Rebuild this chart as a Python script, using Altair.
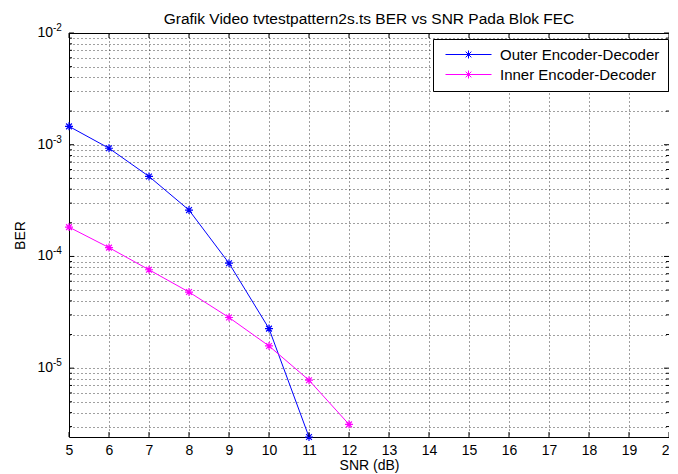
import altair as alt
import pandas as pd

# ---- data ----
snr_outer = [5, 6, 7, 8, 9, 10, 11]
ber_outer = [1.46e-3, 9.3e-4, 5.2e-4, 2.6e-4, 8.7e-5, 2.26e-5, 2.42e-6]
snr_inner = [5, 6, 7, 8, 9, 10, 11, 12]
ber_inner = [1.83e-4, 1.2e-4, 7.6e-5, 4.8e-5, 2.84e-5, 1.58e-5, 7.8e-6, 3.14e-6]
series_names = ["Outer Encoder-Decoder", "Inner Encoder-Decoder"]
series_colors = ["#0000ff", "#ff00ff"]

x_ticks = [5, 6, 7, 8, 9, 10, 11, 12, 13, 14, 15, 16, 17, 18, 19, 20]
y_decades = [1e-5, 1e-4, 1e-3, 1e-2]
y_exponents = ["-5", "-4", "-3", "-2"]
y_minor = [3e-6, 4e-6, 5e-6, 6e-6, 7e-6, 8e-6, 9e-6,
           2e-5, 3e-5, 4e-5, 5e-5, 6e-5, 7e-5, 8e-5, 9e-5,
           2e-4, 3e-4, 4e-4, 5e-4, 6e-4, 7e-4, 8e-4, 9e-4,
           2e-3, 3e-3, 4e-3, 5e-3, 6e-3, 7e-3, 8e-3, 9e-3]
Y_MIN, Y_MAX = 2.42e-6, 1e-2

W, H = 600, 404
FONT = "Liberation Sans"

df = pd.DataFrame(
    {"snr": snr_outer + snr_inner,
     "ber": ber_outer + ber_inner,
     "series": [series_names[0]] * len(snr_outer) + [series_names[1]] * len(snr_inner)}
)
xt = pd.DataFrame({"snr": x_ticks})
yd = pd.DataFrame({"ber": y_decades, "e": y_exponents})
ym = pd.DataFrame({"ber": y_minor})

x_scale = alt.Scale(domain=[5, 20], nice=False)
y_scale = alt.Scale(type="log", domain=[Y_MIN, Y_MAX], nice=False)

GRID_OP = 0.75
x_axis = alt.Axis(values=x_ticks, title="SNR (dB)", grid=True, gridDash=[1, 3],
                  gridColor="#000000", gridOpacity=GRID_OP, ticks=False, domain=False,
                  labelPadding=6, labelFontSize=14, titleFontSize=14, titlePadding=1,
                  labelOverlap=False, labelFlush=False,
                  labelColor="#000", titleColor="#000", titleFontWeight="normal")
y_axis = alt.Axis(values=y_decades + y_minor, title="BER", grid=True, gridDash=[1, 3],
                  gridColor="#000000", gridOpacity=GRID_OP, ticks=False, domain=False,
                  labels=False, titleFontSize=14, titlePadding=42,
                  titleColor="#000", titleFontWeight="normal")


def X():
    return alt.X("snr:Q", scale=x_scale, axis=x_axis)


def Y():
    return alt.Y("ber:Q", scale=y_scale, axis=y_axis)


# marker: MATLAB-style asterisk
STAR = "M-1,0L1,0M0,-1L0,1M-0.72,-0.72L0.72,0.72M-0.72,0.72L0.72,-0.72"
# legend glyph: line with an asterisk in the middle (units of 5 px for size=100)
LEG = ("M-0.6,0L8.6,0"
       "M3.2,0L4.8,0M4,-0.8L4,0.8M3.43,-0.57L4.57,0.57M3.43,0.57L4.57,-0.57")

color = alt.Color(
    "series:N",
    scale=alt.Scale(domain=series_names, range=series_colors),
    legend=alt.Legend(title=None, orient="none", legendX=364, legendY=6,
                      symbolType=LEG, symbolSize=100, symbolStrokeWidth=1,
                      symbolFillColor="transparent",
                      labelFontSize=15, labelColor="#000", labelOffset=44,
                      rowPadding=4, padding=8, strokeColor="#000",
                      fillColor="#ffffff"),
)

base = alt.Chart(df)
lines = base.mark_line(strokeWidth=1).encode(x=X(), y=Y(), color=color, detail="series:N")
points = base.mark_point(shape=STAR, size=64, strokeWidth=1.2, filled=False,
                         opacity=1).encode(x=X(), y=Y(), color=color)

# inward tick marks (MATLAB style)
xb = alt.Chart(xt).mark_rule(color="#000").encode(x=X(), y=alt.value(H), y2=alt.value(H - 5))
xtop = alt.Chart(xt).mark_rule(color="#000").encode(x=X(), y=alt.value(0), y2=alt.value(5))
yl_major = alt.Chart(yd).mark_rule(color="#000").encode(y=Y(), x=alt.value(0), x2=alt.value(5))
yr_major = alt.Chart(yd).mark_rule(color="#000").encode(y=Y(), x=alt.value(W), x2=alt.value(W - 5))
yl_minor = alt.Chart(ym).mark_rule(color="#000").encode(y=Y(), x=alt.value(0), x2=alt.value(3))
yr_minor = alt.Chart(ym).mark_rule(color="#000").encode(y=Y(), x=alt.value(W), x2=alt.value(W - 3))

# y tick labels 10^e
lab10 = alt.Chart(yd).mark_text(align="right", baseline="middle", fontSize=14,
                                 color="#000").encode(
    y=Y(), x=alt.value(-16), text=alt.value("10"))
labexp = alt.Chart(yd).mark_text(align="left", baseline="middle", fontSize=10,
                                  color="#000", dy=-5).encode(
    y=Y(), x=alt.value(-16), text="e:N")

chart = alt.layer(
    lines, points, xb, xtop, yl_major, yr_major, yl_minor, yr_minor, lab10, labexp
).properties(
    width=W, height=H,
    title=alt.Title("Grafik Video tvtestpattern2s.ts BER vs SNR Pada Blok FEC",
                    fontSize=15.5, fontWeight="normal", color="#000", offset=0,
                    dy=4, anchor="middle"),
    autosize=alt.AutoSizeParams(type="none"),
    padding={"left": 61, "top": 25, "right": 0, "bottom": 38},
).configure(font=FONT).configure_view(stroke="#000", strokeWidth=1)

chart.save("out.html", embed_options={"renderer": "svg", "actions": False})
